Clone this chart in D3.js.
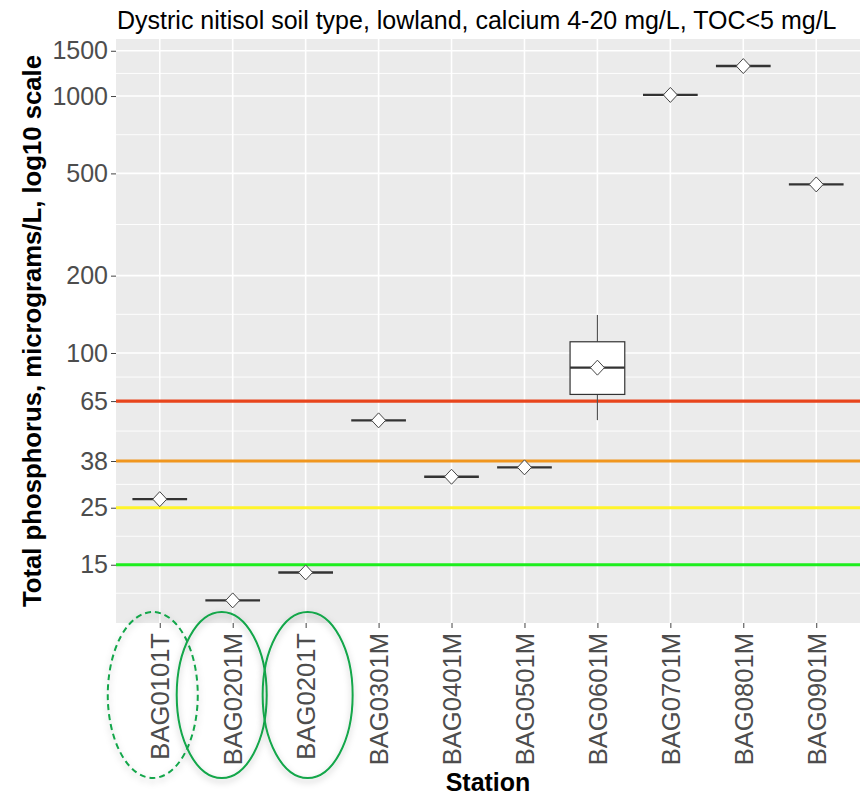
<!DOCTYPE html>
<html>
<head>
<meta charset="utf-8">
<script src="https://cdn.jsdelivr.net/npm/d3@7"></script>
<style>
  body { margin: 0; background: #ffffff; }
  text { font-family: "Liberation Sans", Arial, sans-serif; }
</style>
</head>
<body>
<div id="chart"></div>
<script>
/* CONSTANTS AND GLOBALS */
const width = 862,
  height = 796,
  margin = { top: 39, bottom: 173, left: 116, right: 2 };

/* DATA */
const stations = ["BAG0101T", "BAG0201M", "BAG0201T", "BAG0301M", "BAG0401M",
  "BAG0501M", "BAG0601M", "BAG0701M", "BAG0801M", "BAG0901M"];
const lowerWhisker = [27, 10.9, 14, 54.7, 33, 35.9, 54.8, 1010, 1308, 453];
const q1 = [27, 10.9, 14, 54.7, 33, 35.9, 69, 1010, 1308, 453];
const median = [27, 10.9, 14, 54.7, 33, 35.9, 87.7, 1010, 1308, 453];
const q3 = [27, 10.9, 14, 54.7, 33, 35.9, 110.6, 1010, 1308, 453];
const upperWhisker = [27, 10.9, 14, 54.7, 33, 35.9, 140.6, 1010, 1308, 453];
const means = [27, 10.9, 14, 54.7, 33, 35.9, 87.7, 1010, 1308, 453];

const yTicks = [15, 25, 38, 65, 100, 200, 500, 1000, 1500];
const thresholds = [65, 38, 25, 15];
const thresholdColors = ["#e8451c", "#f0961e", "#fff42a", "#1eee1e"];

// ellipses drawn round the first three station labels
const circled = ["BAG0101T", "BAG0201M", "BAG0201T"];
const circledDash = [true, false, false];

const rows = stations.map((s, i) => ({
  station: s, lo: lowerWhisker[i], q1: q1[i], med: median[i],
  q3: q3[i], hi: upperWhisker[i], mean: means[i]
}));

/* SCALES */
const xScale = d3.scalePoint()
  .domain(stations)
  .range([margin.left, width - margin.right])
  .padding(0.6);

const yScale = d3.scaleLog()
  .domain([8.9, 1667])
  .range([height - margin.bottom, margin.top]);

const step = xScale.step();
const boxW = step * 0.75;

const svg = d3.select("#chart")
  .append("svg")
  .attr("width", width)
  .attr("height", height);

const defs = svg.append("defs");
const shadow = defs.append("filter").attr("id", "shadow")
  .attr("x", "-20%").attr("y", "-20%").attr("width", "140%").attr("height", "140%");
shadow.append("feDropShadow")
  .attr("dx", 0).attr("dy", 3).attr("stdDeviation", 3)
  .attr("flood-color", "#000").attr("flood-opacity", 0.25);

/* PANEL */
svg.append("rect")
  .attr("x", margin.left)
  .attr("y", margin.top)
  .attr("width", width - margin.right - margin.left)
  .attr("height", height - margin.bottom - margin.top)
  .attr("fill", "#ebebeb");

// minor grid = midpoints in log space (plus one below the first break, like ggplot)
const logT = yTicks.map(v => Math.log10(v));
const minors = [];
minors.push(logT[0] - (logT[1] - logT[0]) / 2);
for (let i = 0; i < logT.length - 1; i++) minors.push((logT[i] + logT[i + 1]) / 2);

svg.append("g")
  .selectAll("line")
  .data(minors.map(m => Math.pow(10, m)).filter(v => yScale(v) > margin.top && yScale(v) < height - margin.bottom))
  .join("line")
  .attr("x1", margin.left).attr("x2", width - margin.right)
  .attr("y1", d => yScale(d)).attr("y2", d => yScale(d))
  .attr("stroke", "#ffffff").attr("stroke-width", 0.9);

svg.append("g")
  .selectAll("line")
  .data(yTicks)
  .join("line")
  .attr("x1", margin.left).attr("x2", width - margin.right)
  .attr("y1", d => yScale(d)).attr("y2", d => yScale(d))
  .attr("stroke", "#ffffff").attr("stroke-width", 1.6);

svg.append("g")
  .selectAll("line")
  .data(stations)
  .join("line")
  .attr("x1", d => xScale(d)).attr("x2", d => xScale(d))
  .attr("y1", margin.top).attr("y2", height - margin.bottom)
  .attr("stroke", "#ffffff").attr("stroke-width", 1.6);

/* THRESHOLD LINES */
svg.append("g")
  .selectAll("line")
  .data(thresholds)
  .join("line")
  .attr("x1", margin.left).attr("x2", width - margin.right)
  .attr("y1", d => yScale(d)).attr("y2", d => yScale(d))
  .attr("stroke", (d, i) => thresholdColors[i])
  .attr("stroke-width", 3.2);

/* BOXPLOTS */
const boxes = svg.append("g")
  .selectAll("g")
  .data(rows)
  .join("g");

boxes.append("line")
  .attr("x1", d => xScale(d.station)).attr("x2", d => xScale(d.station))
  .attr("y1", d => yScale(d.hi)).attr("y2", d => yScale(d.q3))
  .attr("stroke", "#555").attr("stroke-width", 1.2);
boxes.append("line")
  .attr("x1", d => xScale(d.station)).attr("x2", d => xScale(d.station))
  .attr("y1", d => yScale(d.q1)).attr("y2", d => yScale(d.lo))
  .attr("stroke", "#555").attr("stroke-width", 1.2);

boxes.append("rect")
  .attr("x", d => xScale(d.station) - boxW / 2)
  .attr("y", d => yScale(d.q3))
  .attr("width", boxW)
  .attr("height", d => yScale(d.q1) - yScale(d.q3))
  .attr("fill", "#ffffff")
  .attr("stroke", "#333")
  .attr("stroke-width", 1.2);

boxes.append("line")
  .attr("x1", d => xScale(d.station) - boxW / 2)
  .attr("x2", d => xScale(d.station) + boxW / 2)
  .attr("y1", d => yScale(d.med)).attr("y2", d => yScale(d.med))
  .attr("stroke", "#333").attr("stroke-width", 2.4);

// mean diamonds
boxes.append("path")
  .attr("d", d => {
    const cx = xScale(d.station), cy = yScale(d.mean);
    return `M${cx},${cy - 7.5}L${cx + 7},${cy}L${cx},${cy + 7.5}L${cx - 7},${cy}Z`;
  })
  .attr("fill", "#ffffff")
  .attr("stroke", "#444")
  .attr("stroke-width", 1);

/* AXES */
const yAxis = d3.axisLeft(yScale)
  .tickValues(yTicks)
  .tickFormat(d3.format("d"))
  .tickSize(5)
  .tickPadding(3);

const gy = svg.append("g")
  .attr("transform", `translate(${margin.left},0)`)
  .call(yAxis);
gy.select(".domain").remove();
gy.selectAll("line").attr("stroke", "#444");
gy.selectAll("text")
  .attr("fill", "#4d4d4d")
  .style("font-size", "25px");

const xAxis = d3.axisBottom(xScale)
  .tickSize(5)
  .tickPadding(3);

const gx = svg.append("g")
  .attr("transform", `translate(0,${height - margin.bottom})`)
  .call(xAxis);
gx.select(".domain").remove();
gx.selectAll("line").attr("stroke", "#444");
gx.selectAll("text")
  .attr("fill", "#4d4d4d")
  .style("font-size", "25.6px")
  .style("text-anchor", "end")
  .attr("x", -10)
  .attr("y", 0)
  .attr("dy", "0.35em")
  .attr("transform", "rotate(-90)");

/* TITLES */
svg.append("text")
  .attr("x", margin.left + 1)
  .attr("y", 29)
  .style("font-size", "25px")
  .attr("fill", "#000")
  .text("Dystric nitisol soil type, lowland, calcium 4-20 mg/L, TOC<5 mg/L");

svg.append("text")
  .attr("transform", `translate(41,${(margin.top + height - margin.bottom) / 2}) rotate(-90)`)
  .attr("text-anchor", "middle")
  .style("font-size", "25.7px")
  .style("font-weight", "bold")
  .attr("fill", "#000")
  .text("Total phosphorus, micrograms/L, log10 scale");

svg.append("text")
  .attr("x", (margin.left + width - margin.right) / 2)
  .attr("y", 791)
  .attr("text-anchor", "middle")
  .style("font-size", "25px")
  .style("font-weight", "bold")
  .attr("fill", "#000")
  .text("Station");

/* ANNOTATION ELLIPSES */
const ellOffset = [-7, -11, 2];
svg.append("g")
  .selectAll("ellipse")
  .data(circled)
  .join("ellipse")
  .attr("cx", (d, i) => xScale(d) + ellOffset[i])
  .attr("cy", height - margin.bottom + 72)
  .attr("rx", 45)
  .attr("ry", 83)
  .attr("fill", "none")
  .attr("stroke", "#12a64a")
  .attr("stroke-width", 2)
  .attr("stroke-dasharray", (d, i) => circledDash[i] ? "6,4" : null)
  .attr("filter", "url(#shadow)");
</script>
</body>
</html>
